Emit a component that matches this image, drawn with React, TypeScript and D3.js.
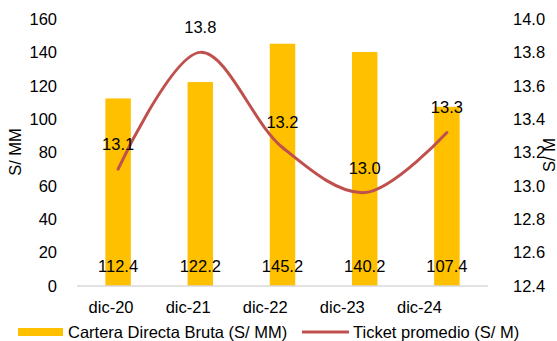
import React, { useRef, useEffect } from "react";
import * as d3 from "d3";

const categories = ["dic-20", "dic-21", "dic-22", "dic-23", "dic-24"];
const cartera = [112.4, 122.2, 145.2, 140.2, 107.4];
const ticket = [13.1, 13.8, 13.23, 12.96, 13.32];
const ticketLabels = ["13.1", "13.8", "13.2", "13.0", "13.3"];
const leftTicks = [0, 20, 40, 60, 80, 100, 120, 140, 160];
const rightTicks = [12.4, 12.6, 12.8, 13.0, 13.2, 13.4, 13.6, 13.8, 14.0];

const FONT = "Arial, 'Liberation Sans', sans-serif";

const App = () => {
  const svgRef = useRef<SVGSVGElement>(null);

  useEffect(() => {
    const svg = d3.select(svgRef.current);
    const width = 557;
    const height = 341;
    const top = 19;
    const bottom = 286;

    svg.attr("width", width).attr("height", height);
    svg.selectAll("*").remove();

    const x = d3.scaleBand().domain(categories).range([77, 488]).paddingInner(0.69).paddingOuter(0.345);
    // category labels sit on a slightly tighter grid than the bars
    const xLabel = d3.scaleBand().domain(categories).range([72.5, 458]);
    const y = d3.scaleLinear().domain([0, 160]).range([bottom, top]);
    const y2 = d3.scaleLinear().domain([12.4, 14.0]).range([bottom, top]);

    // Bars
    svg
      .append("g")
      .selectAll("rect")
      .data(cartera)
      .join("rect")
      .attr("x", (d, i) => x(categories[i]))
      .attr("y", (d) => y(d))
      .attr("width", x.bandwidth())
      .attr("height", (d) => y(0) - y(d))
      .attr("fill", "#FFC000");

    // Axis line
    svg
      .append("line")
      .attr("x1", 77)
      .attr("x2", 488)
      .attr("y1", y(0))
      .attr("y2", y(0))
      .attr("stroke", "#d9d9d9")
      .attr("stroke-width", 1.5);

    // Left ticks
    svg
      .append("g")
      .selectAll("text")
      .data(leftTicks)
      .join("text")
      .attr("x", 57)
      .attr("y", (d) => y(d))
      .attr("dy", "0.35em")
      .attr("text-anchor", "end")
      .attr("font-size", 16.5)
      .attr("font-family", FONT)
      .attr("fill", "#000")
      .text((d) => d);

    // Right ticks
    svg
      .append("g")
      .selectAll("text")
      .data(rightTicks)
      .join("text")
      .attr("x", 513)
      .attr("y", (d) => y2(d))
      .attr("dy", "0.35em")
      .attr("text-anchor", "start")
      .attr("font-size", 16.5)
      .attr("font-family", FONT)
      .attr("fill", "#000")
      .text((d) => d.toFixed(1));

    // Axis titles
    svg
      .append("text")
      .attr("transform", `translate(21,152) rotate(-90)`)
      .attr("text-anchor", "middle")
      .attr("font-size", 16.5)
      .attr("font-family", FONT)
      .text("S/ MM");

    svg
      .append("text")
      .attr("transform", `translate(555,155) rotate(-90)`)
      .attr("text-anchor", "middle")
      .attr("font-size", 16.5)
      .attr("font-family", FONT)
      .text("S/ M");

    // X labels
    svg
      .append("g")
      .selectAll("text")
      .data(categories)
      .join("text")
      .attr("x", (d) => xLabel(d) + xLabel.bandwidth() / 2)
      .attr("y", 313)
      .attr("text-anchor", "middle")
      .attr("font-size", 16.5)
      .attr("font-family", FONT)
      .text((d) => d);

    // Bar value labels
    svg
      .append("g")
      .selectAll("text")
      .data(cartera)
      .join("text")
      .attr("x", (d, i) => x(categories[i]) + x.bandwidth() / 2)
      .attr("y", 272)
      .attr("text-anchor", "middle")
      .attr("font-size", 16.5)
      .attr("font-family", FONT)
      .text((d) => d.toFixed(1));

    // Ticket line
    const line = d3
      .line<number>()
      .x((d, i) => x(categories[i]) + x.bandwidth() / 2)
      .y((d) => y2(d))
      .curve(d3.curveCatmullRom.alpha(0.5));

    svg
      .append("path")
      .datum(ticket)
      .attr("d", line)
      .attr("fill", "none")
      .attr("stroke", "#C0504D")
      .attr("stroke-width", 3)
      .attr("stroke-linecap", "round");

    svg
      .append("g")
      .selectAll("text")
      .data(ticket)
      .join("text")
      .attr("x", (d, i) => x(categories[i]) + x.bandwidth() / 2)
      .attr("y", (d) => y2(d) - 19)
      .attr("text-anchor", "middle")
      .attr("font-size", 16.5)
      .attr("font-family", FONT)
      .text((d, i) => ticketLabels[i]);

    // Legend
    const legend = svg.append("g");
    legend.append("rect").attr("x", 18).attr("y", 328).attr("width", 45).attr("height", 8).attr("fill", "#FFC000");
    legend
      .append("text")
      .attr("x", 68)
      .attr("y", 338)
      .attr("font-size", 16.5)
      .attr("font-family", FONT)
      .text("Cartera Directa Bruta (S/ MM)");
    legend
      .append("line")
      .attr("x1", 302)
      .attr("x2", 349)
      .attr("y1", 332)
      .attr("y2", 332)
      .attr("stroke", "#C0504D")
      .attr("stroke-width", 3);
    legend
      .append("text")
      .attr("x", 353)
      .attr("y", 338)
      .attr("font-size", 16.5)
      .attr("font-family", FONT)
      .text("Ticket promedio (S/ M)");
  }, []);

  return (
    <div style={{ position: "absolute", left: 0, top: 0 }}>
      <svg ref={svgRef}></svg>
    </div>
  );
};

export default App;
